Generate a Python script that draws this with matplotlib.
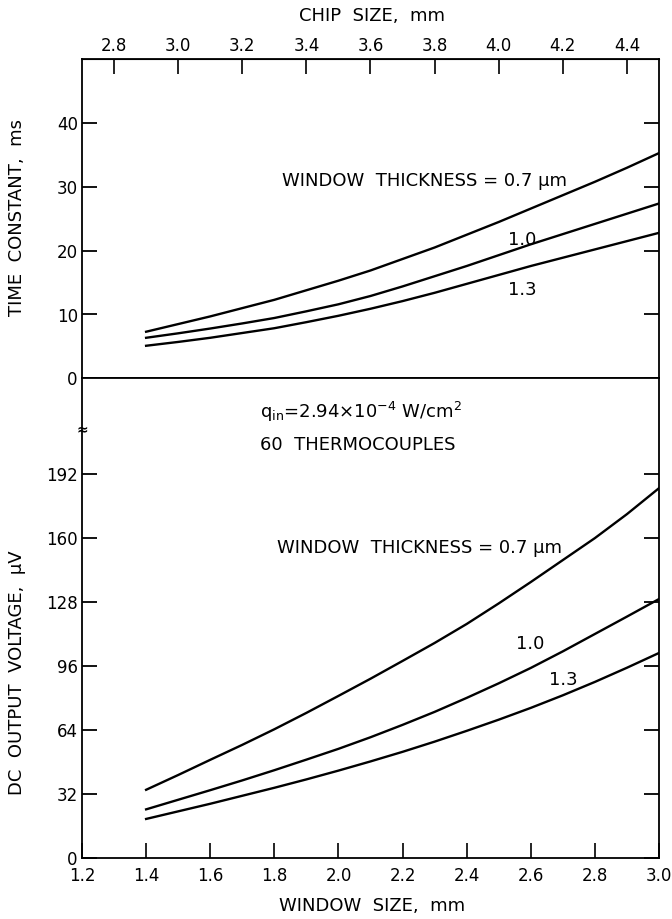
import matplotlib
matplotlib.use("Agg")
import matplotlib.pyplot as plt


# window size, mm (chip size = window size + 1.5 mm)
window_size = [1.4, 1.5, 1.6, 1.7, 1.8, 1.9, 2.0, 2.1, 2.2,
               2.3, 2.4, 2.5, 2.6, 2.7, 2.8, 2.9, 3.0]

# time constant, ms
tau_07 = [7.3, 8.5, 9.7, 11.0, 12.3, 13.8, 15.3, 16.9, 18.7,
          20.5, 22.5, 24.5, 26.6, 28.7, 30.8, 33.0, 35.3]
tau_10 = [6.35, 7.05, 7.8, 8.6, 9.45, 10.5, 11.6, 12.9, 14.4,
          16.0, 17.6, 19.3, 21.0, 22.6, 24.2, 25.8, 27.4]
tau_13 = [5.1, 5.7, 6.35, 7.1, 7.85, 8.8, 9.8, 10.9, 12.1,
          13.4, 14.8, 16.2, 17.6, 18.9, 20.2, 21.5, 22.8]

# dc output voltage, uV
volt_07 = [34, 41.4, 49, 56.5, 64.3, 72.5, 81, 89.6, 98.5,
           107.5, 117, 127.3, 138, 149, 160, 172, 185]
volt_10 = [24.2, 29, 33.8, 38.7, 43.8, 49.1, 54.5, 60.3, 66.5,
           73, 80, 87.3, 95, 103.3, 112, 120.7, 129.5]
volt_13 = [19.4, 23.2, 27.0, 31, 35.0, 39.2, 43.6, 48.2, 53.0,
           58.1, 63.5, 69.1, 75.0, 81.3, 88.0, 95.1, 102.5]

chip_ticks = [2.8, 3.0, 3.2, 3.4, 3.6, 3.8, 4.0, 4.2, 4.4]
window_ticks = [1.2, 1.4, 1.6, 1.8, 2.0, 2.2, 2.4, 2.6, 2.8, 3.0]
tau_ticks = [0, 10, 20, 30, 40]
volt_ticks = [0, 32, 64, 96, 128, 160, 192]

FS = 12     # tick labels
FS_T = 13   # annotations and axis titles
LW = 1.7

plt.rcParams["font.family"] = ["DejaVu Sans"]

fig = plt.figure(figsize=(6.72, 9.19), dpi=100)
W, H = 672, 919


def px_axes(x0, y0, x1, y1):
    return fig.add_axes([x0 / W, 1 - y1 / H, (x1 - x0) / W, (y1 - y0) / H])


ax1 = px_axes(82, 59.3, 659, 378.3)
ax2 = px_axes(82, 378.3, 659, 857.7)

for ax in (ax1, ax2):
    for s in ax.spines.values():
        s.set_linewidth(1.3)
    ax.set_xlim(1.2, 3.0)
    ax.tick_params(axis="y", direction="in", length=11, width=1.3,
                   right=True, labelsize=FS, pad=3)

# top panel
for y in (tau_07, tau_10, tau_13):
    ax1.plot(window_size, y, color="black", lw=LW)
ax1.set_ylim(0, 50)
ax1.set_yticks(tau_ticks)
ax1.set_xticks([])

top = ax1.secondary_xaxis("top", functions=(lambda x: x + 1.5, lambda x: x - 1.5))
top.set_xticks(chip_ticks)
top.set_xticklabels([f"{t:.1f}" for t in chip_ticks])
top.tick_params(direction="in", length=11, width=1.2, labelsize=FS, pad=3)

ax1.text(1.824, 30.9, "WINDOW  THICKNESS = 0.7 μm", fontsize=FS_T,
         ha="left", va="center")
ax1.text(2.573, 21.6, "1.0", fontsize=FS_T, ha="center", va="center")
ax1.text(2.573, 13.9, "1.3", fontsize=FS_T, ha="center", va="center")

# bottom panel
for y in (volt_07, volt_10, volt_13):
    ax2.plot(window_size, y, color="black", lw=LW)
ax2.set_ylim(0, 240)
ax2.set_yticks(volt_ticks)
ax2.set_xticks(window_ticks)
ax2.set_xticklabels([f"{t:.1f}" for t in window_ticks])
ax2.tick_params(axis="x", direction="in", length=11, width=1.2,
                labelsize=FS, pad=7)

ax2.text(1.755, 223,
         r"q$_{\mathregular{in}}$=2.94×10$^{\mathregular{-4}}$ W/cm$^{\mathregular{2}}$",
         fontsize=FS_T, ha="left", va="center")
ax2.text(1.755, 206.6, "60  THERMOCOUPLES", fontsize=FS_T, ha="left", va="center")
ax2.text(1.808, 155, "WINDOW  THICKNESS = 0.7 μm", fontsize=FS_T,
         ha="left", va="center")
ax2.text(2.598, 106.9, "1.0", fontsize=FS_T, ha="center", va="center")
ax2.text(2.70, 89, "1.3", fontsize=FS_T, ha="center", va="center")

# axis break mark on the left spine
fig.text(82 / W, 1 - 429 / H, "≈", fontsize=10, ha="center", va="center",
         fontweight="bold")

fig.text(17 / W, 1 - 217 / H, "TIME  CONSTANT,  ms", fontsize=FS_T,
         rotation=90, ha="center", va="center")
fig.text(17 / W, 1 - 673 / H, "DC  OUTPUT  VOLTAGE,  μV", fontsize=FS_T,
         rotation=90, ha="center", va="center")
fig.text(372 / W, 1 - 16 / H, "CHIP  SIZE,  mm", fontsize=FS_T,
         ha="center", va="center")
fig.text(372 / W, 1 - 906 / H, "WINDOW  SIZE,  mm", fontsize=FS_T,
         ha="center", va="center")

plt.savefig("out.png", dpi=100)
